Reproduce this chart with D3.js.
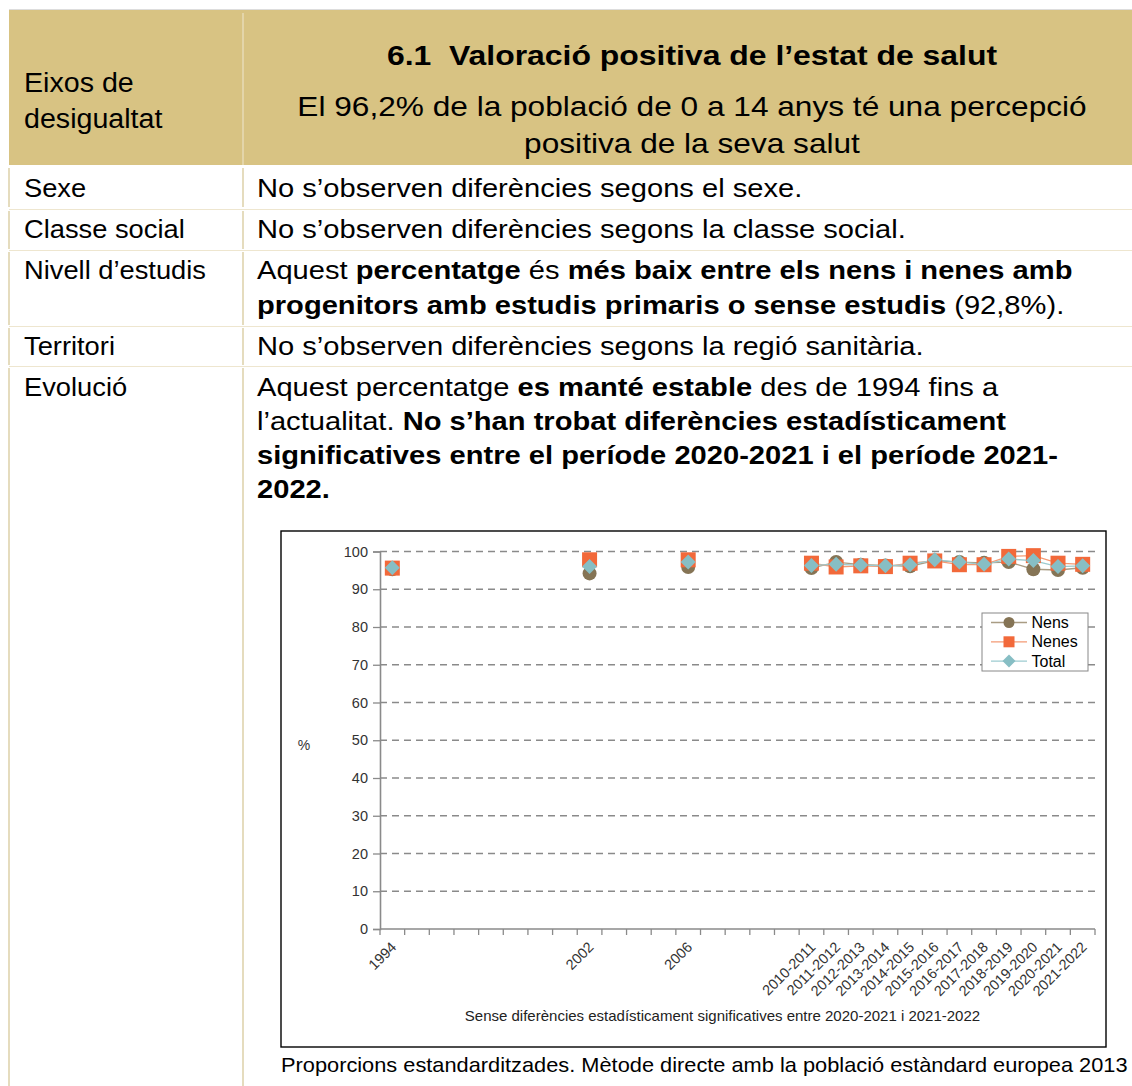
<!DOCTYPE html>
<html>
<head>
<meta charset="utf-8">
<script src="https://cdn.jsdelivr.net/npm/d3@7"></script>
<style>
  html,body{margin:0;padding:0;background:#fff;}
  svg{display:block;}
</style>
</head>
<body>
<svg id="page" width="1132" height="1086"></svg>
<script>
// ---------- DATA ----------
const categories = ["1994","1995","1996","1997","1998","1999","2000","2001","2002","2003","2004","2005","2006","2007","2008","2009","2010",
  "2010-2011","2011-2012","2012-2013","2013-2014","2014-2015","2015-2016","2016-2017","2017-2018","2018-2019","2019-2020","2020-2021","2021-2022"];
const tickLabels = ["1994","2002","2006","2010-2011","2011-2012","2012-2013","2013-2014","2014-2015","2015-2016","2016-2017","2017-2018","2018-2019","2019-2020","2020-2021","2021-2022"];
const nens  = [95.3, 94.2, 95.9, 95.6, 97.2, 96.5, 96.3, 96.1, 97.6, 97.2, 97.0, 97.2, 95.3, 95.1, 95.7];
const nenes = [95.6, 97.8, 97.8, 96.9, 95.9, 96.2, 96.0, 96.9, 97.5, 96.5, 96.5, 98.7, 98.9, 96.9, 96.6];
const total = [95.7, 96.0, 97.2, 96.3, 96.6, 96.4, 96.2, 96.5, 97.8, 97.2, 96.6, 98.0, 97.6, 96.0, 96.2];
const yTicks = [0,10,20,30,40,50,60,70,80,90,100];
const seriesNames = ["Nens","Nenes","Total"];

const headerTitle = "6.1  Valoració positiva de l’estat de salut";
const headerSub = ["El 96,2% de la població de 0 a 14 anys té una percepció","positiva de la seva salut"];
const headerLeft = ["Eixos de","desigualtat"];
const rows = [
  {label:"Sexe", lines:[[{t:"No s’observen diferències segons el sexe."}]]},
  {label:"Classe social", lines:[[{t:"No s’observen diferències segons la classe social."}]]},
  {label:"Nivell d’estudis", lines:[
    [{t:"Aquest "},{t:"percentatge",b:1},{t:" és "},{t:"més baix entre els nens i nenes amb",b:1}],
    [{t:"progenitors amb estudis primaris o sense estudis",b:1},{t:" (92,8%)."}]]},
  {label:"Territori", lines:[[{t:"No s’observen diferències segons la regió sanitària."}]]},
  {label:"Evolució", lines:[
    [{t:"Aquest percentatge "},{t:"es manté estable",b:1},{t:" des de 1994 fins a"}],
    [{t:"l’actualitat. "},{t:"No s’han trobat diferències estadísticament",b:1}],
    [{t:"significatives entre el període 2020-2021 i el període 2021-",b:1}],
    [{t:"2022.",b:1}]]}
];
const chartNote = "Sense diferències estadísticament significatives entre 2020-2021 i 2021-2022";
const caption = "Proporcions estandarditzades. Mètode directe amb la població estàndard europea 2013";

// ---------- LAYOUT ----------
const svg = d3.select("#page");
const FONT = "'Liberation Sans', Arial, Helvetica, sans-serif";
const TAN = "#D8C383";
const LINE_TAN = "#DDD0A8";

function richText(parent, x, y, parts, o) {
  const t = parent.append("text")
    .attr("transform", `translate(${x},${y}) scale(${o.sx||1},1)`)
    .attr("font-family", FONT)
    .attr("font-size", o.size)
    .attr("text-anchor", o.anchor || "start")
    .attr("fill", o.fill || "#000")
    .style("white-space","pre");
  parts.forEach(p => t.append("tspan").attr("font-weight", p.b ? "bold" : "normal").text(p.t));
  return t;
}

// header
svg.append("line").attr("x1",9).attr("x2",1132).attr("y1",9.5).attr("y2",9.5).attr("stroke","#ddd").attr("stroke-width",1);
svg.append("rect").attr("x",9).attr("y",10).attr("width",1123).attr("height",155).attr("fill",TAN);
svg.append("line").attr("x1",243).attr("x2",243).attr("y1",13).attr("y2",165).attr("stroke","#EFE7CF").attr("stroke-width",1);

richText(svg, 692, 65, [{t:headerTitle,b:1}], {size:28, sx:1.14, anchor:"middle"});
headerSub.forEach((s,i) => richText(svg, 692, 116 + i*37, [{t:s}], {size:28, sx:1.13, anchor:"middle"}));
headerLeft.forEach((s,i) => richText(svg, 24, 92 + i*36, [{t:s}], {size:27, sx:1.06}));

// table rows
const rowBounds = [[168,207],[211,249],[252,325],[328,365],[368,1086]];
const rowBaselines = [[197],[238],[279,314],[355],[396,430,464,498]];
rowBounds.forEach((rb,i) => {
  [9,243].forEach(x => svg.append("line").attr("x1",x).attr("x2",x).attr("y1",rb[0]).attr("y2",rb[1]).attr("stroke",LINE_TAN).attr("stroke-width",1.5));
  if (i > 0) svg.append("line").attr("x1",9).attr("x2",1132).attr("y1",rb[0]-1.5).attr("y2",rb[0]-1.5).attr("stroke","#EEE6CF").attr("stroke-width",1);
});
rows.forEach((r,i) => {
  richText(svg, 24, rowBaselines[i][0], [{t:r.label}], {size:26, sx:1.05});
  r.lines.forEach((ln,j) => richText(svg, 257, rowBaselines[i][j], ln, {size:26, sx:1.12}));
});

// ---------- CHART ----------
const box = {x:281, y:531, w:825, h:516};
svg.append("rect").attr("x",box.x).attr("y",box.y).attr("width",box.w).attr("height",box.h)
  .attr("fill","#fff").attr("stroke","#000").attr("stroke-width",1.4);

const plot = {l:380, r:1095, t:551.5, b:929};
const x = d3.scaleBand().domain(categories).range([plot.l, plot.r]).paddingInner(0).paddingOuter(0);
const y = d3.scaleLinear().domain([0,100]).range([plot.b, plot.t]);
const g = svg.append("g");

// gridlines
g.selectAll("line.grid").data(yTicks.filter(d => d > 0)).join("line")
  .attr("x1", plot.l).attr("x2", plot.r).attr("y1", d => y(d)).attr("y2", d => y(d))
  .attr("stroke","#8a8a8a").attr("stroke-width",1.3).attr("stroke-dasharray","7,5");

// y axis
const yAxis = d3.axisLeft(y).tickValues(yTicks).tickSize(7).tickPadding(5);
const ya = g.append("g").attr("transform",`translate(${plot.l},0)`).call(yAxis);
ya.select(".domain").attr("stroke","#8a8a8a").attr("stroke-width",1.6);
ya.selectAll(".tick line").attr("stroke","#8a8a8a").attr("stroke-width",1.3);
ya.selectAll(".tick text").attr("font-family",FONT).attr("font-size",14.5).attr("fill","#333");

// x axis: ticks at band boundaries
const boundaries = categories.map(c => x(c)).concat([plot.r]);
g.append("line").attr("x1",plot.l).attr("x2",plot.r).attr("y1",plot.b).attr("y2",plot.b).attr("stroke","#8a8a8a").attr("stroke-width",1.6);
g.selectAll("line.xt").data(boundaries).join("line")
  .attr("x1",d=>d).attr("x2",d=>d).attr("y1",plot.b).attr("y2",plot.b+6).attr("stroke","#8a8a8a").attr("stroke-width",1.3);
const tickCats = categories.filter(c => tickLabels.includes(c));
g.selectAll("text.xl").data(tickCats).join("text")
  .attr("transform", d => `translate(${x(d)+x.bandwidth()/2+5},${plot.b+19}) rotate(-45)`)
  .attr("text-anchor","end").attr("font-family",FONT).attr("font-size",14.5).attr("fill","#333")
  .text(d => d);

// y label
g.append("text").attr("x",304).attr("y",750).attr("text-anchor","middle").attr("font-family",FONT).attr("font-size",14).attr("fill","#333").text("%");

// series
const full = arr => categories.map(c => { const i = tickLabels.indexOf(c); return i >= 0 ? arr[i] : null; });
const series = [
  {name:seriesNames[0], vals:full(nens),  line:"#A99C84", fill:"#857455", shape:"circle"},
  {name:seriesNames[1], vals:full(nenes), line:"#F39A74", fill:"#F2693A", shape:"square"},
  {name:seriesNames[2], vals:full(total), line:"#9CCBD0", fill:"#87BEC4", shape:"diamond"}
];
const cx = c => x(c) + x.bandwidth()/2;
const lineGen = d3.line().defined(d => d.v != null).x(d => cx(d.c)).y(d => y(d.v));
function marker(sel, shape, size) {
  if (shape === "circle") return sel.append("circle").attr("r", size/2);
  if (shape === "square") return sel.append("rect").attr("x",-size/2).attr("y",-size/2).attr("width",size).attr("height",size);
  const h = size/2;
  return sel.append("path").attr("d",`M0,${-h}L${h},0L0,${h}L${-h},0Z`);
}
const plotSize = {circle:14, square:15, diamond:15};
const legSize = {circle:11, square:11, diamond:13};
series.forEach(s => {
  const pts = categories.map((c,i) => ({c, v:s.vals[i]}));
  g.append("path").datum(pts).attr("d", lineGen).attr("fill","none").attr("stroke", s.line).attr("stroke-width",1.3);
});
series.forEach(s => {
  const pts = categories.map((c,i) => ({c, v:s.vals[i]})).filter(d => d.v != null);
  const mg = g.append("g");
  pts.forEach(p => {
    const m = mg.append("g").attr("transform",`translate(${cx(p.c)},${y(p.v)})`);
    marker(m, s.shape, plotSize[s.shape]).attr("fill", s.fill);
  });
});

// legend
const lg = svg.append("g");
lg.append("rect").attr("x",982).attr("y",613).attr("width",106).attr("height",58).attr("fill","#fff").attr("stroke","#888").attr("stroke-width",1);
series.forEach((s,i) => {
  const ly = 622.5 + i*19.3;
  lg.append("line").attr("x1",991).attr("x2",1027).attr("y1",ly).attr("y2",ly).attr("stroke",s.line).attr("stroke-width",1.3);
  const m = lg.append("g").attr("transform",`translate(1009,${ly})`);
  marker(m, s.shape, legSize[s.shape]).attr("fill", s.fill);
  lg.append("text").attr("x",1031.5).attr("y",ly+5.5).attr("font-family",FONT).attr("font-size",16).attr("fill","#000").text(s.name);
});

// note + caption
svg.append("text").attr("x",722.5).attr("y",1021).attr("text-anchor","middle").attr("font-family",FONT).attr("font-size",15).attr("fill","#222").text(chartNote);
richText(svg, 281, 1072, [{t:caption}], {size:20, sx:1.09, anchor:"start"});
</script>
</body>
</html>
